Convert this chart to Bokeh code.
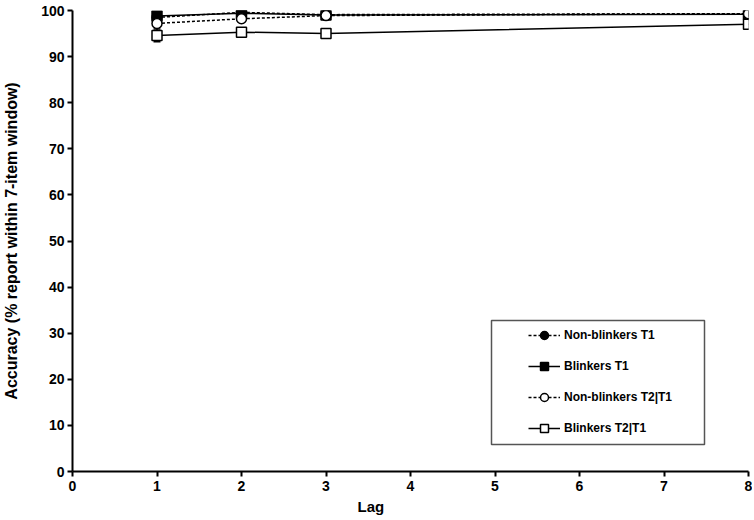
from bokeh.plotting import figure
from bokeh.models import Legend, LegendItem, Whisker, ColumnDataSource, TeeHead, BoxAnnotation, FixedTicker, Range1d, Title
from bokeh.embed import file_html
from bokeh.resources import INLINE

# Data
lags = [1, 2, 3, 8]
nb_t1 = [98.5, 99.6, 99.1, 99.3]
b_t1 = [98.8, 99.4, 99.0, 99.2]
nb_t2 = [97.2, 98.2, 98.9, 99.3]
b_t2 = [94.6, 95.3, 95.0, 97.0]
nb_t1_err = [0.3, 0.3, 0.3, 0.3]
b_t1_err = [0.5, 0.4, 0.4, 0.4]
nb_t2_err = [0.6, 0.5, 0.6, 0.5]
b_t2_err = [1.4, 0.6, 1.0, 1.0]
labels = ["Non-blinkers T1", "Blinkers T1", "Non-blinkers T2|T1", "Blinkers T2|T1"]
x_ticks = [0, 1, 2, 3, 4, 5, 6, 7, 8]
y_ticks = [0, 10, 20, 30, 40, 50, 60, 70, 80, 90, 100]

FONT = "Liberation Sans"

p = figure(width=752, height=516, output_backend="svg", toolbar_location=None,
           x_range=Range1d(0, 8), y_range=Range1d(0, 100),
           min_border_left=0, min_border_right=4, min_border_top=10, min_border_bottom=0)
p.outline_line_color = None
p.xgrid.visible = False
p.ygrid.visible = False

for ax in (p.xaxis[0], p.yaxis[0]):
    ax.axis_line_width = 2
    ax.axis_line_color = "black"
    ax.major_tick_line_width = 2
    ax.major_tick_line_color = "black"
    ax.major_tick_out = 5
    ax.major_tick_in = 0
    ax.minor_tick_line_color = None
    ax.major_label_text_font = FONT
    ax.major_label_text_font_style = "bold"
    ax.major_label_text_font_size = "14px"
    ax.major_label_text_color = "black"
    ax.axis_label_text_font = FONT
    ax.axis_label_text_font_style = "bold"
    ax.axis_label_text_color = "black"

p.xaxis[0].ticker = FixedTicker(ticks=x_ticks)
p.yaxis[0].ticker = FixedTicker(ticks=y_ticks)
p.yaxis[0].axis_label = "Accuracy (% report within 7-item window)"
p.yaxis[0].axis_label_text_font_size = "16px"
p.xaxis[0].major_label_standoff = 4
p.yaxis[0].major_label_standoff = 3
p.yaxis[0].axis_label_standoff = 18

# x-axis title, placed left of centre as in the reference
lag_title = Title(text="Lag", align="left", offset=285, standoff=4,
                  text_font=FONT, text_font_style="bold", text_font_size="15px", text_color="black")
p.add_layout(lag_title, "below")

series = [
    (nb_t1, nb_t1_err, "3 2", "circle", "black"),
    (b_t1, b_t1_err, "solid", "square", "black"),
    (nb_t2, nb_t2_err, "3 2", "circle", "white"),
    (b_t2, b_t2_err, "solid", "square", "white"),
]

lines = []
for vals, errs, dash, marker, fill in series:
    l = p.line(lags, vals, line_color="black", line_width=1.5, line_dash=dash)
    lines.append(l)

for vals, errs, dash, marker, fill in series:
    src = ColumnDataSource(dict(x=lags, lo=[v - e for v, e in zip(vals, errs)],
                                hi=[v + e for v, e in zip(vals, errs)]))
    w = Whisker(base="x", lower="lo", upper="hi", source=src, line_color="black", line_width=1.5,
                upper_head=TeeHead(size=7, line_width=1.5, line_color="black"),
                lower_head=TeeHead(size=7, line_width=1.5, line_color="black"))
    p.add_layout(w)

markers = []
for vals, errs, dash, marker, fill in series:
    m = p.scatter(lags, vals, marker=marker, size=10, fill_color=fill, line_color="black", line_width=1.5)
    markers.append(m)

items = [LegendItem(label=lab, renderers=[l, m]) for lab, l, m in zip(labels, lines, markers)]
legend = Legend(items=items, location=(456, 33), padding=0, margin=0,
                border_line_color=None, background_fill_alpha=0,
                glyph_width=32, glyph_height=20, spacing=11, label_standoff=4,
                label_text_font=FONT, label_text_font_style="bold", label_text_font_size="12px",
                label_text_color="black")
p.add_layout(legend, "center")

box = BoxAnnotation(left=419, right=632, bottom=27, top=151,
                    left_units="screen", right_units="screen", bottom_units="screen", top_units="screen",
                    fill_alpha=0, line_color="#555555", line_width=1.5, line_alpha=1)
p.add_layout(box)

open("out.html", "w").write(file_html(p, INLINE))
